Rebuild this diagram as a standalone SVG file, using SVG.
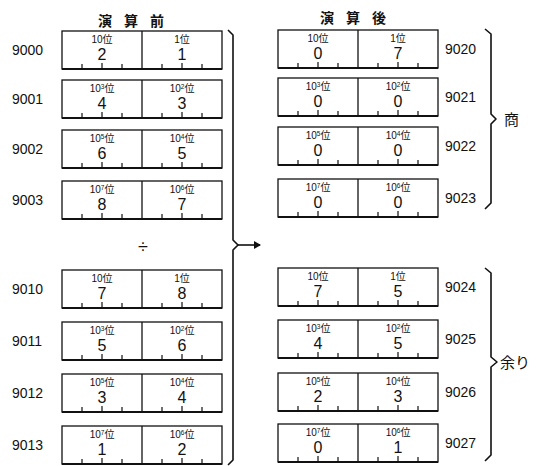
<svg xmlns="http://www.w3.org/2000/svg" xmlns:xlink="http://www.w3.org/1999/xlink" width="537" height="466" viewBox="0 0 537 466">
<style>
text{font-family:"Liberation Sans","Noto Sans CJK JP",sans-serif;fill:#111}
.addr{font-size:14px}
.pos{font-size:10px;text-anchor:middle}
.sup{font-size:6.5px}
.dig{font-size:16px;text-anchor:middle}
.ttl{font-size:14px;font-weight:bold;letter-spacing:12px}
.cj{font-size:15px}
.fr{fill:none;stroke:#111;stroke-width:1.3}
.tk{stroke:#111;stroke-width:1.2}
.bt{stroke:#111;stroke-width:2.2}
.br{fill:none;stroke:#111;stroke-width:1.6;stroke-linejoin:round}
</style>
<defs>
<g id="frame">
<rect class="fr" x="0" y="0" width="160" height="38"/>
<line class="fr" x1="80" y1="0" x2="80" y2="38"/>
<line class="bt" x1="0" y1="38" x2="160" y2="38"/>
<path class="tk" d="M20 33V38M40 32V38M60 33V38M100 33V38M120 32V38M140 33V38"/>
</g>
<marker id="ah" markerWidth="8" markerHeight="8" refX="6" refY="4" orient="auto" markerUnits="userSpaceOnUse">
<path d="M0 0L7 4L0 8Z" fill="#111"/>
</marker>
</defs>

<text class="ttl" x="98" y="26">演算前</text>
<text class="ttl" x="320" y="23">演算後</text>
<text x="143" y="253" font-size="18" text-anchor="middle">÷</text>

<g id="n9000" transform="translate(62,31)"><use xlink:href="#frame"/><text class="addr" x="-50" y="24">9000</text>
<text class="pos" x="40" y="12">10位</text><text class="pos" x="120" y="12">1位</text>
<text class="dig" x="40" y="29">2</text><text class="dig" x="120" y="29">1</text></g>
<g id="n9001" transform="translate(62,80)"><use xlink:href="#frame"/><text class="addr" x="-50" y="24">9001</text>
<text class="pos" x="40" y="12">10<tspan class="sup" dy="-3">3</tspan><tspan dy="3">位</tspan></text><text class="pos" x="120" y="12">10<tspan class="sup" dy="-3">2</tspan><tspan dy="3">位</tspan></text>
<text class="dig" x="40" y="29">4</text><text class="dig" x="120" y="29">3</text></g>
<g id="n9002" transform="translate(62,130)"><use xlink:href="#frame"/><text class="addr" x="-50" y="24">9002</text>
<text class="pos" x="40" y="12">10<tspan class="sup" dy="-3">5</tspan><tspan dy="3">位</tspan></text><text class="pos" x="120" y="12">10<tspan class="sup" dy="-3">4</tspan><tspan dy="3">位</tspan></text>
<text class="dig" x="40" y="29">6</text><text class="dig" x="120" y="29">5</text></g>
<g id="n9003" transform="translate(62,181)"><use xlink:href="#frame"/><text class="addr" x="-50" y="24">9003</text>
<text class="pos" x="40" y="12">10<tspan class="sup" dy="-3">7</tspan><tspan dy="3">位</tspan></text><text class="pos" x="120" y="12">10<tspan class="sup" dy="-3">6</tspan><tspan dy="3">位</tspan></text>
<text class="dig" x="40" y="29">8</text><text class="dig" x="120" y="29">7</text></g>
<g id="n9010" transform="translate(62,270)"><use xlink:href="#frame"/><text class="addr" x="-50" y="24">9010</text>
<text class="pos" x="40" y="12">10位</text><text class="pos" x="120" y="12">1位</text>
<text class="dig" x="40" y="29">7</text><text class="dig" x="120" y="29">8</text></g>
<g id="n9011" transform="translate(62,322)"><use xlink:href="#frame"/><text class="addr" x="-50" y="24">9011</text>
<text class="pos" x="40" y="12">10<tspan class="sup" dy="-3">3</tspan><tspan dy="3">位</tspan></text><text class="pos" x="120" y="12">10<tspan class="sup" dy="-3">2</tspan><tspan dy="3">位</tspan></text>
<text class="dig" x="40" y="29">5</text><text class="dig" x="120" y="29">6</text></g>
<g id="n9012" transform="translate(62,374)"><use xlink:href="#frame"/><text class="addr" x="-50" y="24">9012</text>
<text class="pos" x="40" y="12">10<tspan class="sup" dy="-3">5</tspan><tspan dy="3">位</tspan></text><text class="pos" x="120" y="12">10<tspan class="sup" dy="-3">4</tspan><tspan dy="3">位</tspan></text>
<text class="dig" x="40" y="29">3</text><text class="dig" x="120" y="29">4</text></g>
<g id="n9013" transform="translate(62,426)"><use xlink:href="#frame"/><text class="addr" x="-50" y="24">9013</text>
<text class="pos" x="40" y="12">10<tspan class="sup" dy="-3">7</tspan><tspan dy="3">位</tspan></text><text class="pos" x="120" y="12">10<tspan class="sup" dy="-3">6</tspan><tspan dy="3">位</tspan></text>
<text class="dig" x="40" y="29">1</text><text class="dig" x="120" y="29">2</text></g>

<g id="n9020" transform="translate(278,30)"><use xlink:href="#frame"/><text class="addr" x="167" y="24">9020</text>
<text class="pos" x="40" y="12">10位</text><text class="pos" x="120" y="12">1位</text>
<text class="dig" x="40" y="29">0</text><text class="dig" x="120" y="29">7</text></g>
<g id="n9021" transform="translate(278,78)"><use xlink:href="#frame"/><text class="addr" x="167" y="24">9021</text>
<text class="pos" x="40" y="12">10<tspan class="sup" dy="-3">3</tspan><tspan dy="3">位</tspan></text><text class="pos" x="120" y="12">10<tspan class="sup" dy="-3">2</tspan><tspan dy="3">位</tspan></text>
<text class="dig" x="40" y="29">0</text><text class="dig" x="120" y="29">0</text></g>
<g id="n9022" transform="translate(278,127)"><use xlink:href="#frame"/><text class="addr" x="167" y="24">9022</text>
<text class="pos" x="40" y="12">10<tspan class="sup" dy="-3">5</tspan><tspan dy="3">位</tspan></text><text class="pos" x="120" y="12">10<tspan class="sup" dy="-3">4</tspan><tspan dy="3">位</tspan></text>
<text class="dig" x="40" y="29">0</text><text class="dig" x="120" y="29">0</text></g>
<g id="n9023" transform="translate(278,179)"><use xlink:href="#frame"/><text class="addr" x="167" y="24">9023</text>
<text class="pos" x="40" y="12">10<tspan class="sup" dy="-3">7</tspan><tspan dy="3">位</tspan></text><text class="pos" x="120" y="12">10<tspan class="sup" dy="-3">6</tspan><tspan dy="3">位</tspan></text>
<text class="dig" x="40" y="29">0</text><text class="dig" x="120" y="29">0</text></g>
<g id="n9024" transform="translate(278,268)"><use xlink:href="#frame"/><text class="addr" x="167" y="24">9024</text>
<text class="pos" x="40" y="12">10位</text><text class="pos" x="120" y="12">1位</text>
<text class="dig" x="40" y="29">7</text><text class="dig" x="120" y="29">5</text></g>
<g id="n9025" transform="translate(278,320)"><use xlink:href="#frame"/><text class="addr" x="167" y="24">9025</text>
<text class="pos" x="40" y="12">10<tspan class="sup" dy="-3">3</tspan><tspan dy="3">位</tspan></text><text class="pos" x="120" y="12">10<tspan class="sup" dy="-3">2</tspan><tspan dy="3">位</tspan></text>
<text class="dig" x="40" y="29">4</text><text class="dig" x="120" y="29">5</text></g>
<g id="n9026" transform="translate(278,373)"><use xlink:href="#frame"/><text class="addr" x="167" y="24">9026</text>
<text class="pos" x="40" y="12">10<tspan class="sup" dy="-3">5</tspan><tspan dy="3">位</tspan></text><text class="pos" x="120" y="12">10<tspan class="sup" dy="-3">4</tspan><tspan dy="3">位</tspan></text>
<text class="dig" x="40" y="29">2</text><text class="dig" x="120" y="29">3</text></g>
<g id="n9027" transform="translate(278,424)"><use xlink:href="#frame"/><text class="addr" x="167" y="24">9027</text>
<text class="pos" x="40" y="12">10<tspan class="sup" dy="-3">7</tspan><tspan dy="3">位</tspan></text><text class="pos" x="120" y="12">10<tspan class="sup" dy="-3">6</tspan><tspan dy="3">位</tspan></text>
<text class="dig" x="40" y="29">0</text><text class="dig" x="120" y="29">1</text></g>

<g id="connectors">
<path class="br" d="M228 30L233 35V240L238 245L233 250V460L228 465"/>
<line x1="238" y1="245" x2="260" y2="245" stroke="#111" stroke-width="1.6" marker-end="url(#ah)"/>
<path class="br" d="M485 29L491 34V114L496 119L491 124V203L485 209"/>
<path class="br" d="M485 268L491 273V357L497 362L491 367V455L485 461"/>
</g>
<text class="cj" x="504" y="125">商</text>
<text class="cj" x="500" y="368">余り</text>
</svg>
